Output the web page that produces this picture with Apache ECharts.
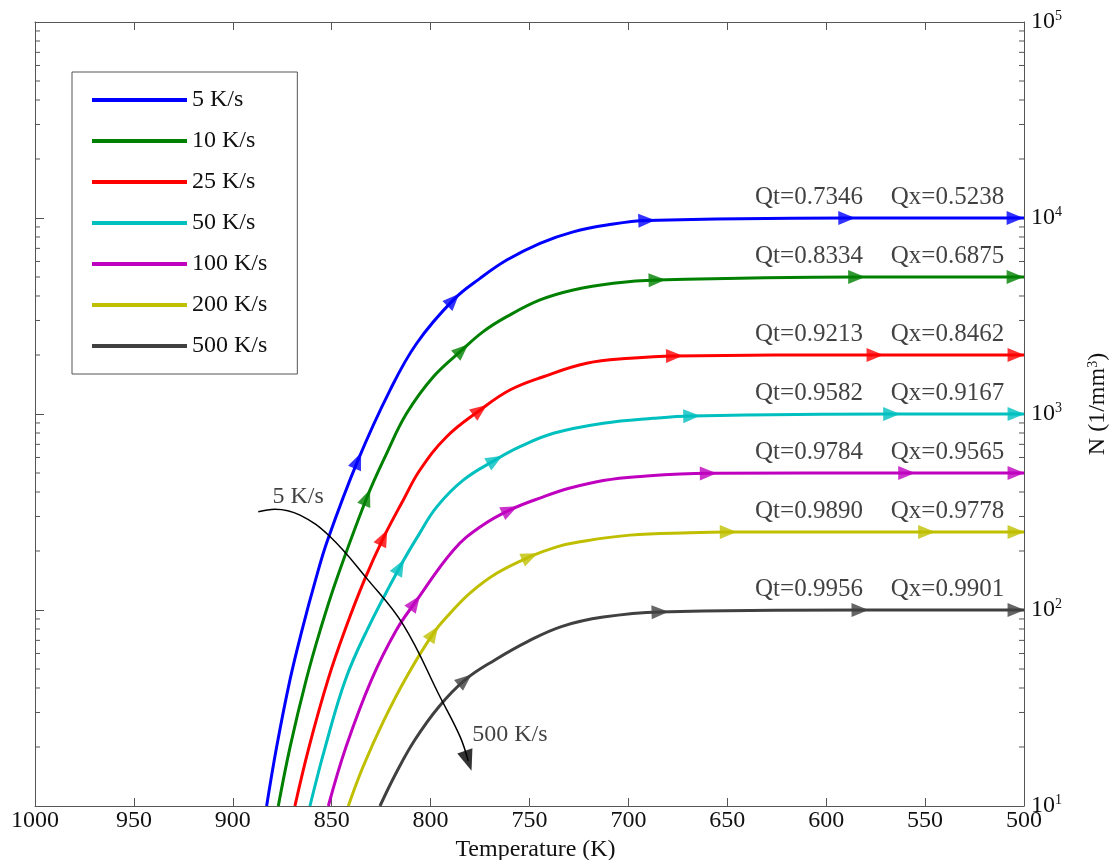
<!DOCTYPE html>
<html>
<head>
<meta charset="utf-8">
<script src="https://cdn.jsdelivr.net/npm/echarts@6/dist/echarts.min.js"></script>
<style>html,body{margin:0;padding:0;background:#fff}#c{width:1111px;height:860px}</style>
</head>
<body>
<div id="c"></div>
<script>
// ---------------- data ----------------
const rateNames = ['5 K/s', '10 K/s', '25 K/s', '50 K/s', '100 K/s', '200 K/s', '500 K/s'];

// [temperature K, N (1/mm^3)]
const curve5 = [[882.9,10],[877.8,20.1],[871.1,44],[865.0,79],[858.2,142],[852.1,227],[836.8,578],[820.5,1324],[807.0,2296],[788.5,3820],[775.0,4920],[761.5,6100],[744.7,7430],[727.9,8500],[710.9,9200],[690.7,9700],[589.6,10000],[504.5,10000],[500,10000]];
const curve10 = [[877.0,10],[871.0,20.1],[862.9,44],[855.8,79],[847.7,142],[832.2,375],[822.2,630],[812.1,1008],[798.6,1549],[784.1,2122],[773.4,2632],[761.5,3137],[744.7,3819],[727.9,4295],[707.6,4650],[685.5,4830],[584.6,5000],[504.5,5000],[500,5000]];
const curve25 = [[868.6,10],[861.4,20.1],[851.9,44],[843.3,79],[833.5,142],[823.8,234],[813.8,364],[805.4,518],[791.9,766],[775.0,1047],[759.9,1325],[743.0,1549],[721.1,1814],[699.2,1924],[676.7,1977],[575.3,2000],[504,2000],[500,2000]];
const curve50 = [[861.0,10],[853.2,20.1],[843.1,44],[832.1,79],[815.5,166],[806.1,241],[796.9,336],[783.5,460],[767.4,582],[754.8,681],[737.9,797],[712.7,897],[687.4,951],[668.0,977],[566.9,1000],[504,1000],[500,1000]];
const curve100 = [[851.7,10],[842.7,20.1],[829.9,44],[817.3,79],[807.9,109],[788.5,202],[775.0,265],[759.9,324],[743.0,378],[729.5,419],[712.7,458],[695.8,479],[659.6,498],[559.3,500],[504,500],[500,500]];
const curve200 = [[841.6,10],[834.1,15.9],[823.5,27.5],[812.1,45.7],[798.6,76],[790.2,96],[780.1,122],[766.6,154],[749.8,187],[736.2,210],[724.5,223],[699.2,241],[668.9,248],[649.5,250],[549.2,250],[504,250],[500,250]];
const curve500 = [[825.6,10],[817.5,14.7],[808.0,21.7],[795.8,32.1],[782.6,44],[767.5,55.6],[751.0,69],[733.5,82.5],[712.7,92],[684.0,97.7],[582.9,100],[504,100],[500,100]];

// temperatures of the direction arrows on each curve
const arrows5 = [836.8, 788.5, 690.7, 589.6, 504.5];
const arrows10 = [832.2, 784.1, 685.5, 584.6, 504.5];
const arrows25 = [823.8, 775.0, 676.7, 575.3, 504];
const arrows50 = [815.5, 767.4, 668.0, 566.9, 504];
const arrows100 = [807.9, 759.9, 659.6, 559.3, 504];
const arrows200 = [798.6, 749.8, 649.5, 549.2, 504];
const arrows500 = [782.6, 684.0, 582.9, 504];

const plateauN = [10000, 5000, 2000, 1000, 500, 250, 100];
const qtValues = ['0.7346', '0.8334', '0.9213', '0.9582', '0.9784', '0.9890', '0.9956'];
const qxValues = ['0.5238', '0.6875', '0.8462', '0.9167', '0.9565', '0.9778', '0.9901'];
const qtTemp = 608.7;
const qxTemp = 538.7;

// annotation sweep arrow ("5 K/s" -> "500 K/s")
const sweepCurve = [[887.1,317],[878.7,327],[866,305],[850.9,237],[832.3,145],[813.8,84],[795.2,36],[785.1,22.6],[781,17]];
const sweepLabelStart = [867.0, 378];
const sweepLabelEnd = [759.9, 23];

// axes
const xMin = 500, xMax = 1000, xStep = 50;
const yMin = 10, yMax = 100000;
const yMinorTicks = [];
for (let d = 1; d <= 4; d++) for (let k = 2; k <= 9; k++) yMinorTicks.push(k * Math.pow(10, d));

// ---------------- styling ----------------
const FONT = '"Liberation Serif", "Times New Roman", serif';
const colors = ['#0000FF', '#008000', '#FF0000', '#00BFBF', '#BF00BF', '#BFBF00', '#404040'];
const curves = [curve5, curve10, curve25, curve50, curve100, curve200, curve500];
const arrowTs = [arrows5, arrows10, arrows25, arrows50, arrows100, arrows200, arrows500];
const AX = '#555';
const FS = 24;

const chart = echarts.init(document.getElementById('c'), null, {renderer: 'canvas'});

function supLabel(v) {
  const e = Math.round(Math.log10(v));
  return '{b|10}{s|' + e + '}';
}

const series = [];
curves.forEach((c, i) => {
  series.push({
    name: rateNames[i], type: 'line', data: c, smooth: 0.4, symbol: 'none',
    lineStyle: {color: colors[i], width: 3}, itemStyle: {color: colors[i]}, z: 3
  });
});
curves.forEach((c, i) => {
  series.push({
    id: 'arr' + i, type: 'scatter', symbol: 'triangle', symbolSize: [14, 17],
    itemStyle: {color: colors[i]}, z: 4, silent: true,
    data: arrowTs[i].map(t => ({value: c.find(p => p[0] === t), symbolRotate: -90}))
  });
});
// Qt / Qx labels
series.push({
  type: 'scatter', symbolSize: 0, silent: true, z: 5,
  data: plateauN.map((n, i) => ({value: [qtTemp, n], label: {formatter: 'Qt=' + qtValues[i]}})),
  label: {show: true, position: 'top', distance: 8, color: '#111', fontFamily: FONT, fontSize: 25}
});
series.push({
  type: 'scatter', symbolSize: 0, silent: true, z: 5,
  data: plateauN.map((n, i) => ({value: [qxTemp, n], label: {formatter: 'Qx=' + qxValues[i]}})),
  label: {show: true, position: 'top', distance: 8, color: '#111', fontFamily: FONT, fontSize: 25}
});
// sweep annotation
series.push({
  type: 'line', data: sweepCurve, smooth: 0.4, symbol: 'none',
  lineStyle: {color: '#000', width: 1.5}, z: 6, silent: true
});
series.push({
  id: 'sweepHead', type: 'scatter', symbol: 'triangle', symbolSize: [16, 21],
  itemStyle: {color: '#000'}, z: 6, silent: true,
  data: [{value: sweepCurve[sweepCurve.length - 1], symbolRotate: 180}]
});
series.push({
  type: 'scatter', symbolSize: 0, silent: true, z: 6,
  data: [{value: sweepLabelStart, label: {formatter: '5 K/s'}}, {value: sweepLabelEnd, label: {formatter: '500 K/s'}}],
  label: {show: true, position: 'inside', color: '#111', fontFamily: FONT, fontSize: FS}
});
// log minor ticks on left and right frame
series.push({
  type: 'custom', silent: true, z: 2,
  data: yMinorTicks.map(v => [750, v]),
  renderItem: function (params, api) {
    const v = api.value(1);
    const l = api.coord([xMax, v]);
    const r = api.coord([xMin, v]);
    return {type: 'group', children: [
      {type: 'line', shape: {x1: l[0], y1: l[1], x2: l[0] + 5, y2: l[1]}, style: {stroke: AX, lineWidth: 1}},
      {type: 'line', shape: {x1: r[0] - 5, y1: r[1], x2: r[0], y2: r[1]}, style: {stroke: AX, lineWidth: 1}}
    ]};
  }
});

const option = {
  animation: false,
  backgroundColor: '#fff',
  textStyle: {fontFamily: FONT},
  grid: {left: 35, right: 87, top: 22, bottom: 54, containLabel: false, outerBoundsMode: 'none'},
  legend: {
    data: rateNames, orient: 'vertical', left: 72, top: 72,
    icon: 'rect', itemWidth: 95, itemHeight: 4, itemGap: 17,
    padding: [16, 30, 16, 20],
    borderColor: AX, borderWidth: 1, backgroundColor: '#fff',
    textStyle: {fontFamily: FONT, fontSize: FS, color: '#111'},
    selectedMode: false
  },
  xAxis: [
    {
      type: 'value', min: xMin, max: xMax, interval: xStep, inverse: true, position: 'bottom',
      name: 'Temperature (K)', nameLocation: 'middle', nameGap: 28,
      nameTextStyle: {fontFamily: FONT, fontSize: FS, color: '#111', padding: [0, 0, 0, 12]},
      axisLine: {show: true, onZero: false, lineStyle: {color: AX, width: 1}},
      axisTick: {show: true, inside: true, length: 8, lineStyle: {color: AX}},
      axisLabel: {fontFamily: FONT, fontSize: FS, color: '#111', margin: 3, formatter: v => String(v)},
      splitLine: {show: false}
    },
    {
      type: 'value', min: xMin, max: xMax, interval: xStep, inverse: true, position: 'top',
      axisLine: {show: true, onZero: false, lineStyle: {color: AX, width: 1}},
      axisTick: {show: true, inside: true, length: 8, lineStyle: {color: AX}},
      axisLabel: {show: false}, splitLine: {show: false}
    }
  ],
  yAxis: [
    {
      type: 'log', logBase: 10, min: yMin, max: yMax, position: 'right',
      name: 'N (1/mm{s|3})', nameLocation: 'middle', nameGap: 62, nameRotate: 90,
      nameTextStyle: {fontFamily: FONT, fontSize: FS, color: '#111', padding: [0, 0, 0, 20],
        rich: {s: {fontFamily: FONT, fontSize: 14, color: '#111', verticalAlign: 'top'}}},
      axisLine: {show: true, onZero: false, lineStyle: {color: AX, width: 1}},
      axisTick: {show: true, inside: true, length: 9, lineStyle: {color: AX}},
      axisLabel: {
        margin: 7, formatter: supLabel,
        rich: {b: {fontFamily: FONT, fontSize: FS, color: '#111', lineHeight: 26},
               s: {fontFamily: FONT, fontSize: 14, color: '#111', verticalAlign: 'top'}}
      },
      splitLine: {show: false}
    },
    {
      type: 'log', logBase: 10, min: yMin, max: yMax, position: 'left',
      axisLine: {show: true, onZero: false, lineStyle: {color: AX, width: 1}},
      axisTick: {show: true, inside: true, length: 9, lineStyle: {color: AX}},
      axisLabel: {show: false}, splitLine: {show: false}
    }
  ],
  series: series
};

chart.setOption(option);

// orient arrow heads along the drawn curves
function toPx(p) { return chart.convertToPixel({xAxisIndex: 0, yAxisIndex: 0}, p); }
function rotatedArrows(curve, ts) {
  const px = curve.map(toPx);
  return ts.map(t => {
    const i = curve.findIndex(p => p[0] === t);
    const a = px[Math.max(i - 1, 0)], b = px[Math.min(i + 1, px.length - 1)];
    const ang = Math.atan2(-(b[1] - a[1]), b[0] - a[0]) * 180 / Math.PI;
    return {value: curve[i], symbolRotate: ang - 90};
  });
}
const upd = curves.map((c, i) => ({id: 'arr' + i, data: rotatedArrows(c, arrowTs[i])}));
const n = sweepCurve.length;
upd.push({id: 'sweepHead', data: rotatedArrows(sweepCurve, [sweepCurve[n - 1][0]])});
chart.setOption({series: upd});
</script>
</body>
</html>
